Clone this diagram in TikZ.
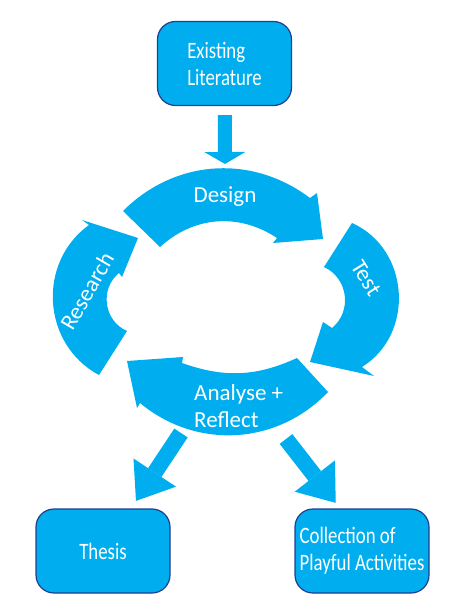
\documentclass[tikz,border=0pt]{standalone}
\usepackage{fontspec}
\setmainfont{Carlito}
\newfontfamily\boxfont{Carlito}[FakeStretch=0.8]
\usetikzlibrary{arrows.meta}
\definecolor{cycblue}{HTML}{00AEEF}
\definecolor{boxedge}{HTML}{1F3F8F}

\begin{document}
\begin{tikzpicture}[x=1pt,y=-1pt,
  box/.style={draw=boxedge,line width=1.2pt,fill=cycblue,rounded corners=18pt,
    minimum width=134pt,minimum height=84pt,align=left,text=white,
    font=\boxfont\fontsize{23.5}{27}\selectfont},
  lbl/.style={text=white,inner sep=0pt,font=\fontsize{23}{27}\selectfont},
  flow/.style={draw=cycblue,line width=#1}]
  \useasboundingbox (0,0) rectangle (471,612);

  \node[box] (lit) at (224.5,63.5) {Existing\\Literature};
  \node[box] (thesis) at (103,551) {Thesis};
  \node[box] (collection) at (362,551) {Collection of\\Playful Activities};

  \fill[cycblue] (123,211) to[bend left=41] (310,198) -- (317,193) -- (323,239)
    -- (273,243) -- (277,238) to[bend right=38] (160,247) -- cycle;
  \fill[cycblue] (352,223) to[bend left=62,looseness=1.12] (362,367) -- (374,376)
    -- (310,362) -- (323,322) -- (332,328) to[bend right=58,looseness=1.1] (324,267) -- cycle;
  \fill[cycblue] (297,358) -- (328,392) to[bend left=43] (140,403) -- (137,408)
    -- (127,361) -- (183,357) -- (182,363) to[bend right=22] cycle;
  \fill[cycblue] (99,375) to[bend left=58,looseness=1.1] (89,225) -- (82,220)
    -- (138,238) -- (122,277) -- (119,273) to[bend right=59,looseness=1.1] (127,331) -- cycle;

  \node[lbl,anchor=base] (design) at (225,203) {Design};
  \node[lbl,rotate=-58] (test) at (366,278) {Test};
  \node[lbl,align=left,anchor=base west] (analyse) at (194,427) {Analyse +\\Reflect};
  \node[lbl,rotate=60] (research) at (87,291) {Research};

  \coordinate (designtop) at (225,164);
  \coordinate (thesisfrom) at (181,433);
  \coordinate (playfrom) at (286,439);

  \draw[flow=14pt,-{Triangle[width=41pt,length=12pt,line width=0pt]},shorten <=9pt]
    (lit) -- (designtop);
  \draw[flow=16pt,-{Triangle[width=51pt,length=34pt,line width=0pt]},shorten >=9pt]
    (thesisfrom) -- ([xshift=28pt]thesis.north);
  \draw[flow=16pt,-{Triangle[width=51pt,length=34pt,line width=0pt]},shorten >=7pt]
    (playfrom) -- ([xshift=-22pt]collection.north);
\end{tikzpicture}
\end{document}
